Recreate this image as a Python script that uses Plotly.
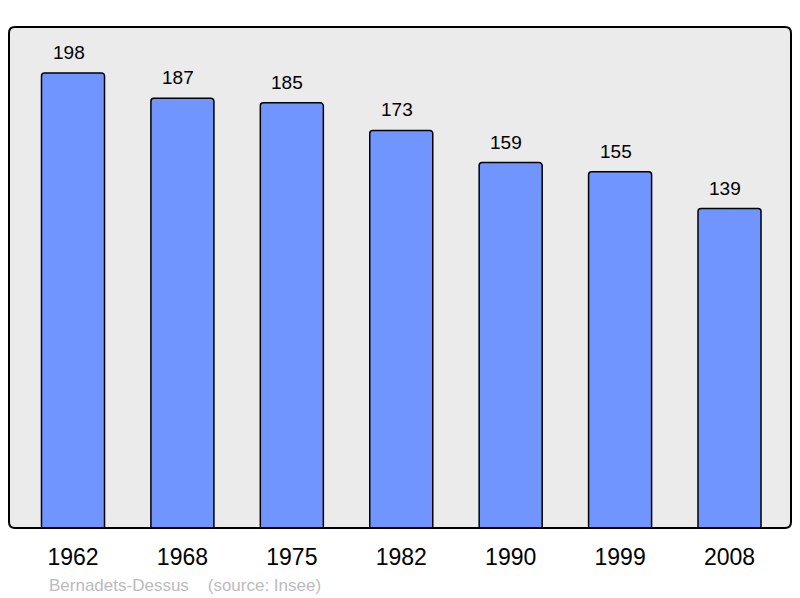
import plotly.graph_objects as go

years = ["1962", "1968", "1975", "1982", "1990", "1999", "2008"]
population = [198, 187, 185, 173, 159, 155, 139]
footer_text = "Bernadets-Dessus    (source: Insee)"

# page body has 8px default margin -> compensate
OFF = 8
W, H = 800 - OFF, 598 - OFF
ml, mr, mt, mb = 9 - OFF, 9, 27 - OFF, 70
pw, ph = W - ml - mr, H - mt - mb
idx = list(range(len(years)))
FONT = "Liberation Sans, Arial, sans-serif"

fig = go.Figure()
fig.add_trace(go.Bar(
    x=idx, y=population, width=0.576,
    marker=dict(color="#7095FF", line=dict(color="#000000", width=1.5), cornerradius=3),
    hoverinfo="skip",
))

for i, v in zip(idx, population):
    fig.add_annotation(x=i, y=v, text=str(v), showarrow=False, yanchor="bottom",
                       yshift=8, xshift=-4.5,
                       font=dict(size=19, color="#000000", family=FONT))

fig.add_annotation(xref="paper", yref="paper", x=(47 - 9) / pw,
                   y=-(585 - 528) / ph, xanchor="left", yanchor="middle",
                   text=footer_text, showarrow=False,
                   font=dict(size=17, color="#BBBBBB", family=FONT))

# rounded frame
rx = 6 / pw
ry = 6 / ph
path = (f"M {rx},0 L {1-rx},0 Q 1,0 1,{ry} L 1,{1-ry} Q 1,1 {1-rx},1 "
        f"L {rx},1 Q 0,1 0,{1-ry} L 0,{ry} Q 0,0 {rx},0 Z")
fig.add_shape(type="path", xref="paper", yref="paper", path=path,
              line=dict(color="#000000", width=2), layer="above")

fig.update_layout(
    width=W, height=H,
    margin=dict(l=ml, r=mr, t=mt, b=mb, pad=0),
    paper_bgcolor="#FFFFFF", plot_bgcolor="#EBEBEB",
    showlegend=False,
    font=dict(family=FONT),
    xaxis=dict(range=[-0.585, 6.562], tickvals=idx, ticktext=years, showgrid=False,
               zeroline=False, showline=False, ticks="", ticklabelstandoff=13,
               tickfont=dict(size=23, color="#000000")),
    yaxis=dict(range=[0, 218], showgrid=False, zeroline=False, showticklabels=False,
               showline=False, ticks=""),
)

fig.write_html("out.html")
